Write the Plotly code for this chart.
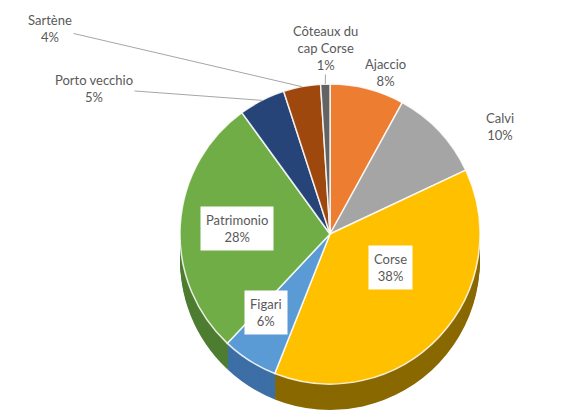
import math
import plotly.graph_objects as go

# ---- data ----
labels = ["Ajaccio", "Calvi", "Corse", "Figari", "Patrimonio", "Porto vecchio", "Sartène", "Côteaux du<br>cap Corse"]
values = [8, 10, 38, 6, 28, 5, 4, 1]

# ---- style ----
top_colors = ["#ED7D31", "#A5A5A5", "#FFC000", "#5B9BD5", "#70AD47", "#264478", "#9E480E", "#636363"]
side_colors = ["#A9561F", "#767676", "#8A6800", "#3D6FA6", "#4E7D31", "#1A2F55", "#6E3209", "#444444"]

W, H = 584, 416
cx, cy, R = 322, 226, 150
depth = 26
FONT = "Lato, 'Open Sans', sans-serif"
TXT = "#595959"


def dom(offset):
    return dict(x=[(cx - R) / W, (cx + R) / W],
                y=[1 - (cy + R + offset) / H, 1 - (cy - R + offset) / H])


fig = go.Figure()

# side (depth) layers, deepest first
for off in range(depth, 0, -2):
    fig.add_trace(go.Pie(
        labels=labels, values=values, sort=False, direction="clockwise", rotation=0,
        marker=dict(colors=side_colors, line=dict(width=0)),
        textinfo="none", hoverinfo="skip", showlegend=False, domain=dom(off)))

# top surface
fig.add_trace(go.Pie(
    labels=labels, values=values, sort=False, direction="clockwise", rotation=0,
    marker=dict(colors=top_colors, line=dict(color="rgba(255,255,255,0.85)", width=1.5)),
    textinfo="none", hoverinfo="skip", showlegend=False, domain=dom(0)))

# ---- labels ----
total = sum(values)
mids = []
acc = 0
for v in values:
    mids.append((acc + v / 2) / total * 360)
    acc += v

# placement: (mode, radial factor or label px position)
place = {
    "Ajaccio": ("free", (400, 46)),
    "Calvi": ("free", (508, 100)),
    "Corse": ("inside", 0.55),
    "Figari": ("inside", 0.8),
    "Patrimonio": ("inside", 0.62),
    "Porto vecchio": ("line", (86, 80)),
    "Sartène": ("line", (42, 20)),
    "Côteaux du<br>cap Corse": ("line", (318, 40)),
}

annotations = []
for lab, v, m in zip(labels, values, mids):
    text = f"{lab}<br>{round(v / total * 100)}%"
    mode, p = place[lab]
    a = math.radians(m)
    if mode == "inside":
        px = cx + p * R * math.sin(a)
        py = cy - p * R * math.cos(a)
        annotations.append(dict(x=px / W, y=1 - py / H, xref="paper", yref="paper", text=text,
                                showarrow=False, bgcolor="white", borderpad=5,
                                font=dict(family=FONT, size=13, color=TXT)))
    elif mode == "free":
        annotations.append(dict(x=p[0] / W, y=1 - p[1] / H, xref="paper", yref="paper", text=text,
                                showarrow=False, font=dict(family=FONT, size=13, color=TXT)))
    else:
        ex = cx + R * math.sin(a)
        ey = cy - R * math.cos(a)
        annotations.append(dict(x=ex / W, y=1 - ey / H, xref="paper", yref="paper", text=text,
                                showarrow=True, arrowhead=0, arrowwidth=1, arrowcolor="#A6A6A6",
                                ax=p[0] - ex, ay=p[1] - ey,
                                font=dict(family=FONT, size=13, color=TXT)))

fig.update_layout(width=W, height=H, margin=dict(l=0, r=0, t=0, b=0),
                  paper_bgcolor="white", plot_bgcolor="white",
                  annotations=annotations, showlegend=False)

fig.write_html("out.html")
